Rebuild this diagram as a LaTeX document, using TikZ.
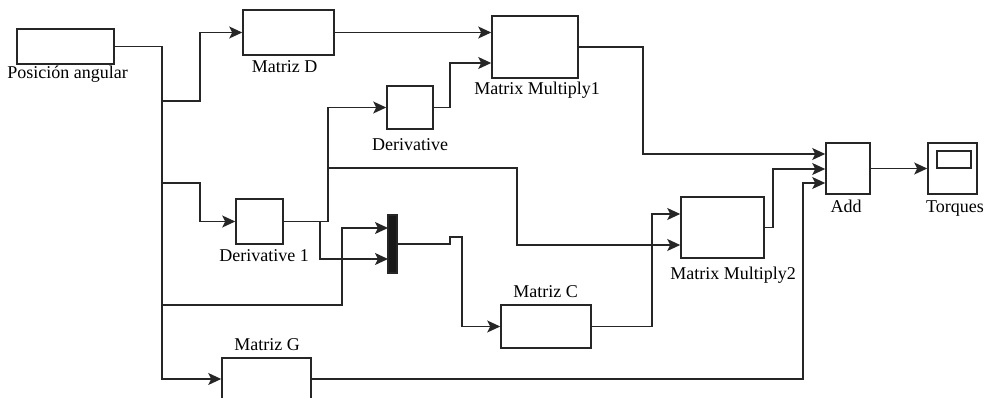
\documentclass[tikz,border=0pt]{standalone}
\usepackage{fontspec}
\setmainfont{Liberation Serif}
\newfontfamily\lblfont{Liberation Serif}
\usetikzlibrary{arrows.meta}
\begin{document}
\begin{tikzpicture}[x=1pt,y=-1pt,
  blk/.style={draw=black!85,line width=1.6pt,rectangle,inner sep=0pt,fill=white},
  wire/.style={draw=black!85,line width=1.6pt},
  arr/.style={wire,-{Stealth[length=13pt,width=12pt,inset=3pt]}},
  lbl/.style={anchor=base,inner sep=0pt,font=\lblfont\fontsize{18}{20}\selectfont}]
\useasboundingbox (0,0) rectangle (984,398);
\clip (0,0) rectangle (984,398);
% blocks
\node[blk,minimum width=97pt,minimum height=35pt] (pos) at (65.5,46.5) {};
\node[blk,minimum width=91pt,minimum height=45pt] (md) at (288.5,32.5) {};
\node[blk,minimum width=86pt,minimum height=62pt] (mm1) at (535,47) {};
\node[blk,minimum width=46pt,minimum height=43pt] (der) at (410,107.5) {};
\node[blk,minimum width=47pt,minimum height=45pt] (der1) at (259.5,221.5) {};
\node[blk,fill=black!90,minimum width=9pt,minimum height=58pt] (mux) at (392.5,244) {};
\node[blk,minimum width=90pt,minimum height=43pt] (mc) at (546,326.5) {};
\node[blk,minimum width=83pt,minimum height=61pt] (mm2) at (722.5,227.5) {};
\node[blk,minimum width=44pt,minimum height=51pt] (add) at (848,168.5) {};
\node[blk,minimum width=49pt,minimum height=51pt] (torq) at (952.5,168.5) {};
\node[blk,minimum width=34pt,minimum height=17pt] (scr) at (954,159.5) {};
\node[blk,minimum width=89pt,minimum height=42pt] (mg) at (266.5,379) {};
% labels
\node[lbl] (lpos) at (67.5,79) {Posición angular};
\node[lbl] (lmd) at (284.5,73) {Matriz D};
\node[lbl] (lmm1) at (537,95) {Matrix Multiply1};
\node[lbl] (lder) at (410,151) {Derivative};
\node[lbl] (lder1) at (264,261) {Derivative 1};
\node[lbl] (lmc) at (545.5,297) {Matriz C};
\node[lbl] (lmm2) at (733,279) {Matrix Multiply2};
\node[lbl] (ladd) at (846,212) {Add};
\node[lbl] (ltorq) at (955,212) {Torques};
\node[lbl] (lmg) at (267,350) {Matriz G};
% junction / bend coordinates
\coordinate (j1) at (162,101);
\coordinate (j2) at (162,183);
\coordinate (j3) at (162,305);
\coordinate (tb) at (162,379);
\coordinate (b1) at (200,32.5);
\coordinate (b2) at (200,221.5);
\coordinate (b3) at (342,228);
\coordinate (m1) at (388,228);
\coordinate (m2) at (388,259);
\coordinate (d1) at (328,221.5);
\coordinate (d2) at (328,107.5);
\coordinate (d3) at (328,168);
\coordinate (d4) at (320,221.5);
\coordinate (e1) at (450,63);
\coordinate (e2) at (517,245);
\coordinate (c1) at (450,244);
\coordinate (c2) at (450,237);
\coordinate (c3) at (462,237);
\coordinate (c4) at (652,214);
\coordinate (a1) at (643,154);
\coordinate (a2) at (773,169);
\coordinate (a3) at (803,183);
% connectors
\draw[arr] (pos.east) -| (tb) -- (mg.west);
\draw[arr] (j1) -| (b1) -- (md.west);
\draw[arr] (j2) -| (b2) -- (der1.west);
\draw[arr] (j3) -| (b3) -- (m1);
\draw[arr] (md.east) -- (md.east -| mm1.west);
\draw[arr] (der.east) -| (e1) -- (e1 -| mm1.west);
\draw[arr] (der1.east) -| (d2) -- (der.west);
\draw[arr] (d3) -| (e2) -- (e2 -| mm2.west);
\draw[arr] (d4) |- (m2);
\draw[arr] (mux.east) -- (c1) -- (c2) -- (c3) |- (mc.west);
\draw[arr] (mc.east) -| (c4) -- (c4 -| mm2.west);
\draw[arr] (mm1.east) -| (a1) -- (a1 -| add.west);
\draw[arr] (mm2.east) -| (a2) -- (a2 -| add.west);
\draw[arr] (mg.east) -| (a3) -- (a3 -| add.west);
\draw[arr] (add.east) -- (torq.west);
\end{tikzpicture}
\end{document}
